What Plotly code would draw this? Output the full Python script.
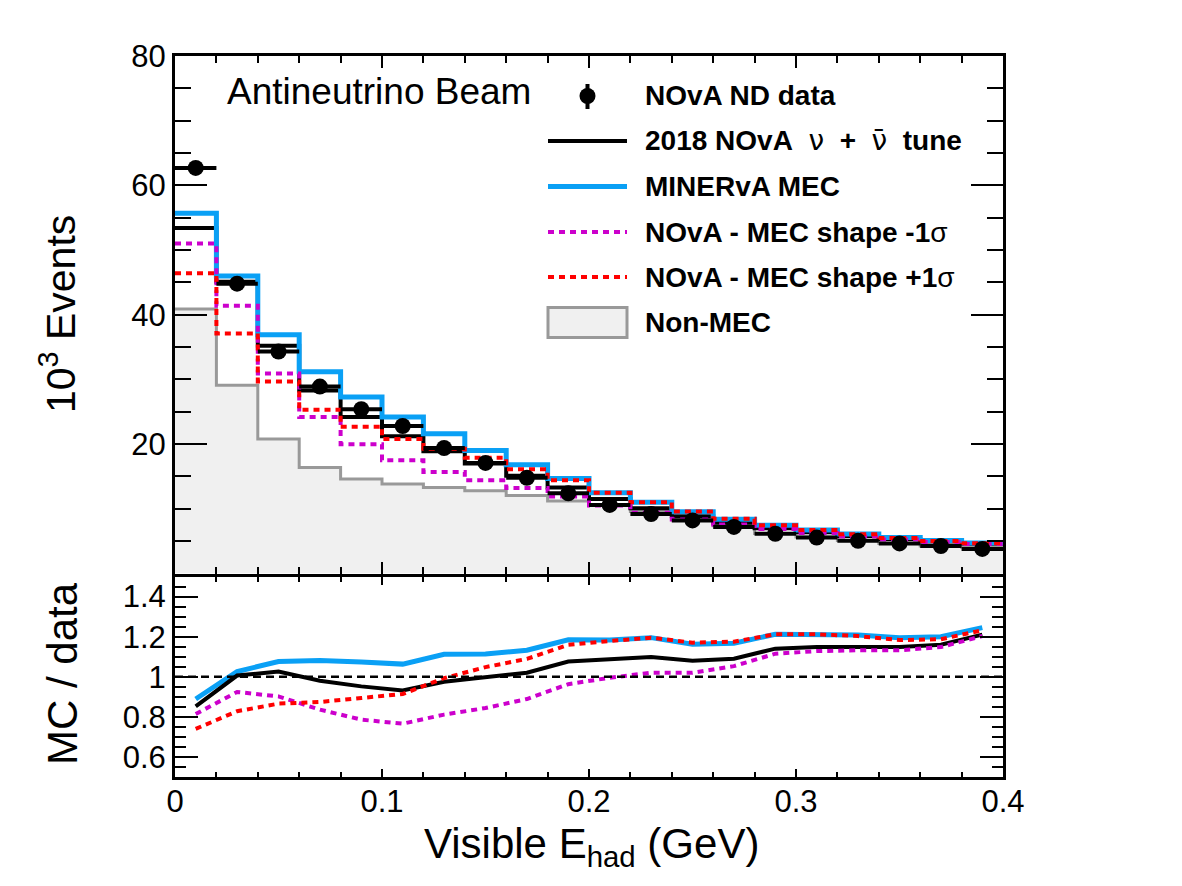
import numpy as np
import plotly.graph_objects as go
from plotly.subplots import make_subplots

# ---------------- data ----------------
bin_edges = [0.00, 0.02, 0.04, 0.06, 0.08, 0.10, 0.12, 0.14, 0.16, 0.18, 0.20,
             0.22, 0.24, 0.26, 0.28, 0.30, 0.32, 0.34, 0.36, 0.38, 0.40]

data_nd = [62.7, 44.8, 34.3, 28.9, 25.4, 22.8, 19.4, 17.1, 14.8, 12.4,
           10.6, 9.2, 8.2, 7.2, 6.15, 5.55, 5.05, 4.65, 4.25, 3.8]

tune_2018 = [53.4, 45.1, 35.2, 28.3, 24.2, 21.2, 18.9, 17.0, 15.1, 13.3,
             11.5, 10.1, 8.86, 7.85, 7.01, 6.37, 5.80, 5.34, 4.93, 4.60]
minerva_mec = [55.7, 46.0, 36.9, 31.2, 27.3, 24.2, 21.6, 19.0, 16.8, 14.7,
               12.5, 11.0, 9.53, 8.40, 7.45, 6.73, 6.10, 5.56, 5.10, 4.73]
mec_minus = [51.0, 41.4, 30.9, 24.2, 20.0, 17.5, 15.7, 14.4, 13.2, 11.9,
             10.5, 9.38, 8.36, 7.58, 6.86, 6.26, 5.72, 5.26, 4.88, 4.57]
mec_plus = [46.4, 37.1, 29.7, 25.3, 22.7, 20.8, 19.3, 17.9, 16.1, 14.4,
            12.5, 11.0, 9.59, 8.46, 7.45, 6.73, 6.08, 5.50, 5.04, 4.68]
non_mec = [40.9, 29.1, 20.8, 16.4, 14.6, 13.85, 13.3, 12.8, 12.05, 11.2,
           10.5, 9.6, 8.5, 7.4, 6.2, 5.65, 5.1, 4.65, 4.25, 4.05]

ratio_tune = [0.852, 1.006, 1.026, 0.980, 0.952, 0.932, 0.975, 0.995, 1.020, 1.076,
              1.087, 1.098, 1.080, 1.090, 1.140, 1.148, 1.148, 1.148, 1.160, 1.210]
ratio_minerva = [0.889, 1.026, 1.076, 1.081, 1.073, 1.063, 1.112, 1.114, 1.132, 1.184,
                 1.183, 1.195, 1.162, 1.167, 1.212, 1.212, 1.208, 1.195, 1.200, 1.245]
ratio_minus = [0.814, 0.924, 0.902, 0.836, 0.786, 0.766, 0.811, 0.844, 0.889, 0.963,
               0.995, 1.020, 1.020, 1.053, 1.115, 1.128, 1.132, 1.132, 1.148, 1.203]
ratio_plus = [0.740, 0.828, 0.866, 0.874, 0.894, 0.914, 0.993, 1.048, 1.089, 1.159,
              1.178, 1.195, 1.170, 1.175, 1.212, 1.212, 1.203, 1.183, 1.187, 1.232]

SYM = "<span style='font-family:DejaVu Sans;font-weight:normal'>"
legend_labels = [
    "<b>NOvA ND data</b>",
    "<b>2018 NOvA</b>  " + SYM + "ν</span>  <b>+</b>  " + SYM + "ν\u0304</span>  <b>tune</b>",
    "<b>MINERvA MEC</b>",
    "<b>NOvA - MEC shape -1</b>σ",
    "<b>NOvA - MEC shape +1</b>σ",
    "<b>Non-MEC</b>",
]

# ---------------- styles ----------------
FONT = "Liberation Sans, Arial, Helvetica, sans-serif"
C_BLUE = "#0aa0f5"
C_MAG = "#cc00cc"
C_RED = "#ff0000"
C_GRAY = "#999999"
C_FILL = "#f0f0f0"
DOTS = "6px,5px"
LW_FRAME = 3

W, H = 1182, 886
ML, MR, MT, MB = 175, 179, 56, 109
PW, PH = W - ML - MR, H - MT - MB
SPLIT = 575  # pixel row where the two pads meet


def px_x(px):
    return (px - ML) / PW


def px_y(py):
    return (H - MB - py) / PH


edges = np.array(bin_edges)
centers = 0.5 * (edges[:-1] + edges[1:])
half_w = 0.5 * (edges[1:] - edges[:-1])


def step_y(vals):
    return list(vals) + [vals[-1]]


fig = make_subplots(rows=2, cols=1, shared_xaxes=True, vertical_spacing=0)

# ---- top pad ----
fig.add_trace(go.Scatter(x=edges, y=step_y(non_mec), mode="lines", line_shape="hv",
                         line=dict(color=C_GRAY, width=3), fill="tozeroy",
                         fillcolor=C_FILL, showlegend=False), row=1, col=1)
fig.add_trace(go.Scatter(x=edges, y=step_y(tune_2018), mode="lines", line_shape="hv",
                         line=dict(color="black", width=4), showlegend=False), row=1, col=1)
fig.add_trace(go.Scatter(x=edges, y=step_y(minerva_mec), mode="lines", line_shape="hv",
                         line=dict(color=C_BLUE, width=5), showlegend=False), row=1, col=1)
fig.add_trace(go.Scatter(x=edges, y=step_y(mec_minus), mode="lines", line_shape="hv",
                         line=dict(color=C_MAG, width=4, dash=DOTS), showlegend=False), row=1, col=1)
fig.add_trace(go.Scatter(x=edges, y=step_y(mec_plus), mode="lines", line_shape="hv",
                         line=dict(color=C_RED, width=4, dash=DOTS), showlegend=False), row=1, col=1)
fig.add_trace(go.Scatter(x=centers, y=data_nd, mode="markers",
                         marker=dict(color="black", size=16),
                         error_x=dict(type="data", array=half_w, thickness=4, width=0, color="black"),
                         showlegend=False), row=1, col=1)

# ---- ratio pad ----
fig.add_trace(go.Scatter(x=centers, y=ratio_minerva, mode="lines",
                         line=dict(color=C_BLUE, width=5), showlegend=False), row=2, col=1)
fig.add_trace(go.Scatter(x=centers, y=ratio_tune, mode="lines",
                         line=dict(color="black", width=4), showlegend=False), row=2, col=1)
fig.add_trace(go.Scatter(x=centers, y=ratio_minus, mode="lines",
                         line=dict(color=C_MAG, width=4, dash=DOTS), showlegend=False), row=2, col=1)
fig.add_trace(go.Scatter(x=centers, y=ratio_plus, mode="lines",
                         line=dict(color=C_RED, width=4, dash=DOTS), showlegend=False), row=2, col=1)
fig.add_trace(go.Scatter(x=[edges[0], edges[-1]], y=[1, 1], mode="lines",
                         line=dict(color="black", width=2.5, dash="8px,5px"),
                         showlegend=False), row=2, col=1)

# the two pads share one frame line: overlap the domains by the line width
top_lo = px_y(SPLIT - LW_FRAME / 2)
bot_hi = px_y(SPLIT + LW_FRAME / 2)
axis_common = dict(showline=True, linewidth=LW_FRAME, linecolor="black", mirror="allticks",
                   ticks="inside", showgrid=False, layer="above traces",
                   tickwidth=2, tickcolor="black",
                   zeroline=False, tickfont=dict(family=FONT, size=31, color="black"))
minor_common = dict(ticks="inside", tickwidth=2, tickcolor="black")

fig.update_layout(
    width=W, height=H, margin=dict(l=ML, r=MR, t=MT, b=MB),
    paper_bgcolor="white", plot_bgcolor="white",
    font=dict(family=FONT, color="black"),
    xaxis=dict(domain=[0, 1], range=[0, 0.4], dtick=0.1, tick0=0, ticklen=12,
               showticklabels=False,
               minor=dict(dtick=0.02, ticklen=7, **minor_common),
               **axis_common),
    yaxis=dict(domain=[top_lo, 1], range=[0, 80], tickmode="linear", tick0=0, dtick=20,
               ticklen=32, ticklabelstandoff=0, labelalias={"0": " "},
               minor=dict(dtick=5, ticklen=16, **minor_common),
               **axis_common),
    xaxis2=dict(domain=[0, 1], range=[0, 0.4], dtick=0.1, tick0=0, ticklen=8,
                ticklabelstandoff=-5,
                minor=dict(dtick=0.02, ticklen=5, **minor_common),
                **axis_common),
    yaxis2=dict(domain=[0, bot_hi], range=[0.5, 1.5], dtick=0.2, tick0=0, ticklen=23,
                ticklabelstandoff=0,
                minor=dict(dtick=0.05, tick0=0, ticklen=11, **minor_common),
                **axis_common),
)

# ---- text ----
fig.add_annotation(x=px_x(225), y=px_y(92), xref="paper", yref="paper", xanchor="left",
                   yanchor="middle", text="Antineutrino Beam", showarrow=False,
                   font=dict(family=FONT, size=37, color="black"))
fig.add_annotation(x=px_x(58), y=px_y(314), xref="paper", yref="paper", xanchor="center",
                   yanchor="middle", text="10<sup>3</sup> Events", textangle=-90, showarrow=False,
                   font=dict(family=FONT, size=41, color="black"))
fig.add_annotation(x=px_x(62), y=px_y(674), xref="paper", yref="paper", xanchor="center",
                   yanchor="middle", text="MC / data", textangle=-90, showarrow=False,
                   font=dict(family=FONT, size=42, color="black"))
fig.add_annotation(x=px_x(591), y=px_y(846), xref="paper", yref="paper", xanchor="center",
                   yanchor="middle", text="Visible E<sub>had</sub> (GeV)", showarrow=False,
                   font=dict(family=FONT, size=42, color="black"))

# ---- legend (drawn by hand, ROOT style) ----
rows = [96, 141, 186.5, 232, 277, 322.5]
key_x0, key_x1, text_x = 548, 627, 643
for lab, ry in zip(legend_labels, rows):
    fig.add_annotation(x=px_x(text_x), y=px_y(ry), xref="paper", yref="paper",
                       xanchor="left", yanchor="middle", text=lab, showarrow=False,
                       font=dict(family=FONT, size=28, color="black"))

shapes = []
mx = 0.5 * (key_x0 + key_x1)
shapes.append(dict(type="line", xref="paper", yref="paper", x0=px_x(mx), x1=px_x(mx),
                   y0=px_y(rows[0] - 12), y1=px_y(rows[0] + 13), line=dict(color="black", width=4)))
shapes.append(dict(type="circle", xref="paper", yref="paper", x0=px_x(mx - 8), x1=px_x(mx + 8),
                   y0=px_y(rows[0] + 8), y1=px_y(rows[0] - 8), fillcolor="black",
                   line=dict(color="black", width=0)))
key_styles = [dict(color="black", width=4), dict(color=C_BLUE, width=5),
              dict(color=C_MAG, width=4, dash=DOTS), dict(color=C_RED, width=4, dash=DOTS)]
for st, ry in zip(key_styles, rows[1:5]):
    shapes.append(dict(type="line", xref="paper", yref="paper", x0=px_x(key_x0), x1=px_x(key_x1),
                       y0=px_y(ry), y1=px_y(ry), line=st))
shapes.append(dict(type="rect", xref="paper", yref="paper", x0=px_x(key_x0), x1=px_x(key_x1),
                   y0=px_y(rows[5] + 15), y1=px_y(rows[5] - 15), fillcolor=C_FILL,
                   line=dict(color=C_GRAY, width=3)))
fig.update_layout(shapes=shapes)

fig.write_html("out.html")
